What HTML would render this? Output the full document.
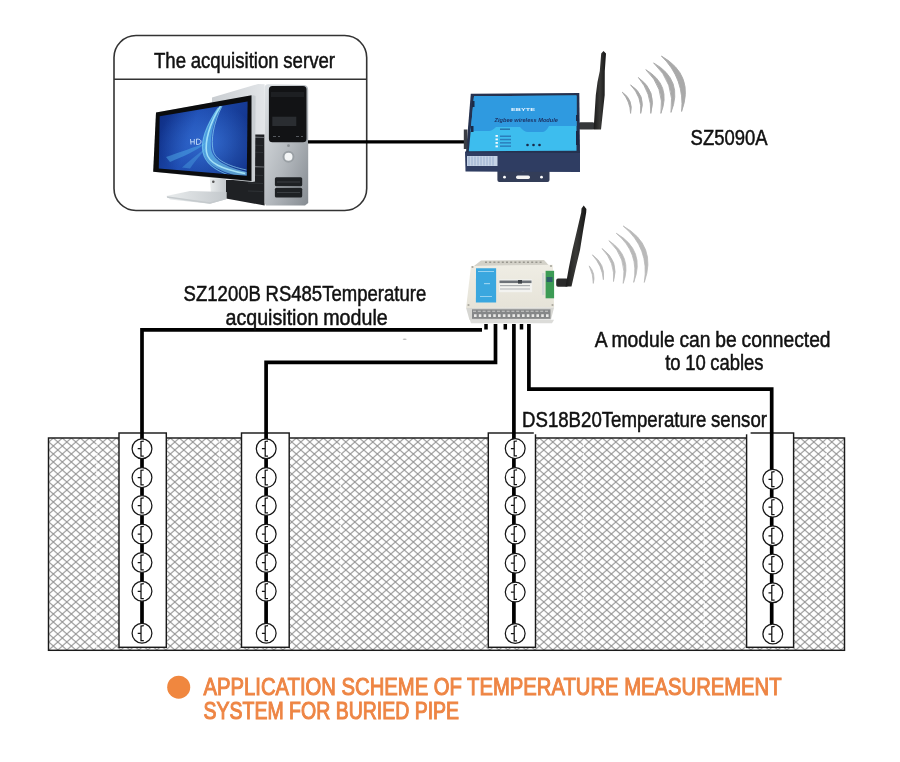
<!DOCTYPE html>
<html><head><meta charset="utf-8">
<style>
html,body{margin:0;padding:0;background:#fff;width:900px;height:762px;overflow:hidden}
svg{display:block}
text{font-family:"Liberation Sans",sans-serif}
</style></head>
<body>
<svg width="900" height="762" viewBox="0 0 900 762">
<defs>
  <pattern id="hatch" x="48.8" y="442" width="9" height="8" patternUnits="userSpaceOnUse">
    <path d="M-4.5,-4 L13.5,12 M13.5,-4 L-4.5,12" stroke="#959595" stroke-width="1.1" fill="none"/>
  </pattern>
  <g id="sensor">
    <circle cx="0" cy="0" r="9.9" fill="#fff" stroke="#161616" stroke-width="1.25"/>
    <path d="M1.8,-7.6 L-1,-7.2 V7.3 H1.8 M-4.3,0 H-1" stroke="#111" stroke-width="1.25" fill="none"/>
  </g>
</defs>

<!-- ground -->
<rect x="48.5" y="438" width="796" height="212.3" fill="url(#hatch)" stroke="#1a1a1a" stroke-width="1.45"/>

<path d="M96.9,439.5 V649 M219.3,439.5 V649 M340.5,439.5 V649 M462.1,439.5 V649 M583.5,439.5 V649 M704.3,439.5 V649 M826.3,439.5 V649" stroke="#fff" stroke-width="1.3" stroke-dasharray="3,1.5" opacity="0.85"/>
<!-- pipe boxes -->
<rect x="119" y="433" width="47.3" height="214.3" fill="#fff" stroke="#1a1a1a" stroke-width="1.45"/>
<rect x="241.5" y="433" width="47.7" height="214.3" fill="#fff" stroke="#1a1a1a" stroke-width="1.45"/>
<rect x="488.3" y="433" width="47.2" height="214.3" fill="#fff" stroke="#1a1a1a" stroke-width="1.45"/>
<rect x="746.6" y="433" width="47" height="214.3" fill="#fff" stroke="#1a1a1a" stroke-width="1.45"/>

<rect x="533.8" y="431" width="216.8" height="3.3" fill="#fff"/>
<!-- cables -->
<g stroke="#000" stroke-width="3.7" fill="none" stroke-linejoin="miter">
  <path d="M482,329.9 H142 V633"/>
  <path d="M495.5,324 V362.3 H266.1 V633"/>
  <path d="M513.9,324 V633"/>
  <path d="M528.9,324 V389.1 H771.7 V633"/>
  <path d="M486,324 V329.5 M505.3,324 V329.5 M521.5,324 V329.5" stroke-width="3.5"/>
</g>

<!-- sensors -->
<g>
<use href="#sensor" x="142" y="448.7"/><use href="#sensor" x="142" y="477.6"/><use href="#sensor" x="142" y="505.5"/><use href="#sensor" x="142" y="534"/><use href="#sensor" x="142" y="562.5"/><use href="#sensor" x="142" y="591.3"/><use href="#sensor" x="142" y="633.3"/>
<use href="#sensor" x="266.2" y="448.7"/><use href="#sensor" x="266.2" y="477.6"/><use href="#sensor" x="266.2" y="505.5"/><use href="#sensor" x="266.2" y="534"/><use href="#sensor" x="266.2" y="562.5"/><use href="#sensor" x="266.2" y="591.3"/><use href="#sensor" x="266.2" y="633.3"/>
<use href="#sensor" x="515.2" y="448.6"/><use href="#sensor" x="515.2" y="477.4"/><use href="#sensor" x="515.2" y="505.3"/><use href="#sensor" x="515.2" y="534"/><use href="#sensor" x="515.2" y="563.2"/><use href="#sensor" x="515.2" y="592.1"/><use href="#sensor" x="515.2" y="633.5"/>
<use href="#sensor" x="772.8" y="479.3"/><use href="#sensor" x="772.8" y="507.2"/><use href="#sensor" x="772.8" y="535.8"/><use href="#sensor" x="772.8" y="564"/><use href="#sensor" x="772.8" y="592.8"/><use href="#sensor" x="772.8" y="634"/>
</g>

<!-- server box -->
<rect x="114" y="35.5" width="252.7" height="175" rx="22" ry="22" fill="#fff" stroke="#333" stroke-width="1.6"/>
<line x1="114" y1="79.3" x2="366.7" y2="79.3" stroke="#333" stroke-width="1.6"/>

<!-- ===== computer ===== -->
<defs>
  <linearGradient id="scr" x1="0" y1="0" x2="1" y2="0.3">
    <stop offset="0" stop-color="#0d2a7e"/>
    <stop offset="0.45" stop-color="#1d4bb0"/>
    <stop offset="1" stop-color="#14378f"/>
  </linearGradient>
  <radialGradient id="scrglow" cx="0.55" cy="0.55" r="0.55">
    <stop offset="0" stop-color="#3d7be0" stop-opacity="0.7"/>
    <stop offset="1" stop-color="#3d7be0" stop-opacity="0"/>
  </radialGradient>
  <linearGradient id="swoosh" x1="0" y1="0" x2="1" y2="1">
    <stop offset="0" stop-color="#4fb8ee"/>
    <stop offset="1" stop-color="#8fe3f7"/>
  </linearGradient>
  <linearGradient id="towertop" x1="0" y1="0" x2="1" y2="0">
    <stop offset="0" stop-color="#c9cdd1"/>
    <stop offset="1" stop-color="#e2e5e8"/>
  </linearGradient>
  <linearGradient id="towerfront" x1="0" y1="0" x2="1" y2="1">
    <stop offset="0" stop-color="#dfe3e6"/>
    <stop offset="0.55" stop-color="#b3b8bd"/>
    <stop offset="1" stop-color="#868c92"/>
  </linearGradient>
  <linearGradient id="standg" x1="0" y1="0" x2="1" y2="0">
    <stop offset="0" stop-color="#e9eced"/>
    <stop offset="1" stop-color="#c3c8cc"/>
  </linearGradient>
</defs>
<g>
  <!-- tower top/side -->
  <polygon points="212,97.5 258,84 264.6,84.3 264.6,135 212,135" fill="url(#towertop)"/>
  <polygon points="244,134.6 264.6,134.6 264.6,205.5 226,198.5 225.8,180 244,180" fill="#1f2124"/>
  <path d="M247,137 L264,137.5 M247,166.5 L264,167" stroke="#6a6e72" stroke-width="1.2"/>
  <path d="M248,145 L263,145.5 M248,152 L263,152.5 M248,175 L263,175.5 M248,183 L263,183.5 M248,191 L263,191.5" stroke="#34373b" stroke-width="0.8"/>
  <!-- tower front -->
  <path d="M264.6,88 Q264.6,84.3 268,84.3 L304,85 Q308.2,85.5 308.2,90 L308.2,203 L305,205.5 L266,205.5 L264.6,203 Z" fill="url(#towerfront)"/>
  <rect x="268.9" y="86" width="37.6" height="56.3" rx="3.5" fill="#121315"/>
  <rect x="272.3" y="116.7" width="24" height="9.3" fill="#2a2d31"/>
  <rect x="271" y="92" width="33" height="5" fill="#1d1f22"/>
  <path d="M273,136.5 H276 M278,136.5 H280 M296,136.5 H299 M301,136.5 H303" stroke="#55595e" stroke-width="1"/>
  <circle cx="288.5" cy="156.8" r="5" fill="#f4f6f7" stroke="#9aa0a5" stroke-width="2"/>
  <circle cx="288.5" cy="145.7" r="1.4" fill="#8a8f94"/>
  <rect x="274.9" y="177.3" width="27.3" height="9" rx="1.5" fill="#1e2124"/>
  <rect x="274.9" y="187.8" width="27.3" height="9.6" rx="1.5" fill="#1e2124"/>
  <path d="M277,182 H300 M277,192.5 H300" stroke="#3a3e42" stroke-width="1"/>
  <!-- stand -->
  <polygon points="209.8,178.5 225.8,178.5 226,192 219,195 211,194" fill="url(#standg)"/>
  <circle cx="213.3" cy="181.8" r="1.3" fill="#555"/>
  <polygon points="166.2,196 190,191 226.7,192 226.7,199 210,203.8 170,199.5" fill="url(#standg)"/>
  <path d="M167,197 L210,203 L226,198.5" stroke="#c5cacd" stroke-width="1.3" fill="none"/>
  <!-- monitor -->
  <polygon points="156,112.6 253.5,95.2 255.6,96 255,181.5 252.4,182 153.2,171.7" fill="#c9ced2"/>
  <polygon points="156,112.6 251.5,95.2 251.5,181.1 153.2,171.7" fill="#0b0c0e"/>
  <polygon points="159.7,116.3 247.6,101.5 246.8,175.8 158.8,168.5" fill="url(#scr)"/>
  <polygon points="159.7,116.3 247.6,101.5 246.8,175.8 158.8,168.5" fill="url(#scrglow)"/>
  <clipPath id="scrclip"><polygon points="159.7,116.3 247.6,101.5 246.8,175.8 158.8,168.5"/></clipPath>
  <filter id="soft" x="-10%" y="-10%" width="120%" height="120%"><feGaussianBlur stdDeviation="0.7"/></filter>
  <g clip-path="url(#scrclip)"><g filter="url(#soft)">
  <path d="M166,157 C180,152 195,147 206,143 C196,151 182,157 170,162 Z" fill="#52b4ea" opacity="0.45"/>
  <path d="M182,167.5 C190,160 198,154 206,148 C200,156 194,162 190,168.5 Z" fill="#52b4ea" opacity="0.35"/>
  <path d="M219,107 C208,122 202,138 203,150 C204,162 216,170 236,175.5 L246.8,175.8 L246.8,172 C226,167 212,160 211,148 C210,134 214,120 222,106 Z" fill="url(#swoosh)" opacity="0.6"/>
  <path d="M220.5,106 C209,124 205,142 206.5,152 C208,163 222,169 245,173.5" stroke="#b8f2ff" stroke-width="1.6" fill="none" opacity="0.8"/>
  <path d="M218,108 C206,126 201,142 203,152 C205,163 214,170 230,175.5" stroke="#7fd8f6" stroke-width="1.2" fill="none" opacity="0.7"/>
  <path d="M222,106 C213,124 211,140 213,150 C215,160 228,166 246.5,170" stroke="#9ce6fa" stroke-width="1" fill="none" opacity="0.6"/>
  </g></g>
  <path d="M190.5,139 L191,144.5 M190.8,141.8 H194 M194.3,139 V144.5 M196.5,139 V144.5 Q201,144.5 201,141.8 Q201,139 196.5,139" stroke="#d8ecff" stroke-width="0.8" fill="none"/>
</g>


<!-- ===== router SZ5090A ===== -->
<defs>
  <linearGradient id="ant" x1="0" y1="0" x2="1" y2="0">
    <stop offset="0" stop-color="#1a1a1a"/>
    <stop offset="0.5" stop-color="#3a3a38"/>
    <stop offset="1" stop-color="#151515"/>
  </linearGradient>
</defs>
<g>
  <!-- antenna connector -->
  <rect x="578" y="122.2" width="17" height="7.2" rx="2.5" fill="#36383a"/>
  <!-- antenna -->
  <path d="M603.5,51 L606,53.5 L604.8,71 L604.7,95 L601,129.4 L593.6,129.4 L595.8,95 L597.5,82 L599.8,71 L601.2,53.5 Z" fill="url(#ant)"/>
  <!-- bracket -->
  <path d="M497.4,171 H549.5 V180 Q549.5,182 547.5,182 H499.4 Q497.4,182 497.4,180 Z" fill="#333d58"/>
  <circle cx="504.5" cy="177.2" r="1.4" fill="#fff"/>
  <circle cx="541.5" cy="177.2" r="1.4" fill="#fff"/>
  <rect x="516" y="175.5" width="14" height="3.5" rx="1.7" fill="#f4f4f4"/>
  <circle cx="523" cy="170" r="1.6" fill="#c9ccd2"/>
  <!-- front face -->
  <polygon points="465,151.5 580,152 580,172 465.5,171.5" fill="#2f3d62"/>
  <rect x="467" y="156" width="30.5" height="10" fill="#c5d3e6"/>
  <path d="M469,156.5 V165.5 M472,156.5 V165.5 M475,156.5 V165.5 M478,156.5 V165.5 M481,156.5 V165.5 M484,156.5 V165.5 M487,156.5 V165.5 M490,156.5 V165.5 M493,156.5 V165.5" stroke="#8ea6c8" stroke-width="0.8"/>
  <!-- top frame -->
  <polygon points="470.8,93.8 579.3,93 580,153 466,152.3" fill="#25314f"/>
  <!-- top blue -->
  <polygon points="474,96.3 576.5,95.6 576.5,150.8 468.8,151.3" fill="#3dbdee"/>
  <path d="M474,96.3 L576.5,95.6 L576.5,126 L549,126 Q546,132 542,132 L528,132 Q524,132 520,127 L496,127 Q492,131 489,131 L470.5,131 Z" fill="#2f9ae0"/>
  <!-- labels -->
  <text x="511" y="111.4" font-size="3.6" font-weight="bold" fill="#eaf6ff" textLength="24" lengthAdjust="spacingAndGlyphs" style="will-change:transform">EBYTE</text>
  <text x="494.5" y="122.2" font-size="5.2" font-weight="bold" font-style="italic" fill="#1d3567" textLength="63.5" lengthAdjust="spacingAndGlyphs" style="will-change:transform">Zigbee wireless Module</text>
  <rect x="500" y="128.5" width="10" height="1.4" fill="#1e4d86" opacity="0.7"/>
  <g fill="#f4fbff"><rect x="495.5" y="135" width="2.4" height="1.8"/><rect x="495.5" y="138.5" width="2.4" height="1.8"/><rect x="495.5" y="142" width="2.4" height="1.8"/><rect x="495.5" y="145.5" width="2.4" height="1.8"/></g>
  <g fill="#2364a8" opacity="0.7"><rect x="500" y="135.5" width="11" height="1.5"/><rect x="500" y="138.8" width="11" height="1.5"/><rect x="500" y="142.1" width="11" height="1.5"/><rect x="500" y="145.4" width="11" height="1.5"/></g>
  <g fill="#1a2a4a"><circle cx="527.5" cy="145" r="1.3"/><circle cx="533.5" cy="145" r="1.3"/><circle cx="539.5" cy="145" r="1.3"/></g>
  <rect x="472" y="101" width="2.5" height="6" fill="#1b2a48"/>
  <rect x="471" y="126" width="2.5" height="6" fill="#1b2a48"/>
  <rect x="576" y="115" width="3" height="6" fill="#1b2a48"/>
  <rect x="576" y="131" width="3" height="14" fill="#1b2a48"/>
</g>


<!-- ===== signal arcs ===== -->
<g fill="#a9a9a9" stroke="#a9a9a9" stroke-width="0.9" stroke-linejoin="round">
<path d="M622.3,92.2 Q633.7,100.0 630.6,113.4 Q630.1,101.4 622.3,92.2 Z"/>
<path d="M630.6,84.9 Q646.8,95.2 640.7,113.4 Q642.2,96.8 630.6,84.9 Z"/>
<path d="M638.4,77.5 Q657.4,91.0 650.8,113.4 Q651.5,93.1 638.4,77.5 Z"/>
<path d="M645.8,69.7 Q671.9,85.1 660.9,113.4 Q664.7,87.6 645.8,69.7 Z"/>
<path d="M653.6,62.9 Q683.9,80.0 671.0,112.4 Q675.3,83.1 653.6,62.9 Z"/>
<path d="M661.4,56.0 Q695.0,75.2 681.6,111.5 Q684.8,78.9 661.4,56.0 Z"/>
</g><g fill="#b9b9b9" stroke="#b9b9b9" stroke-width="0.8" stroke-linejoin="round">
<path d="M589.2,265.9 Q595.9,273.6 593.3,283.4 Q593.3,274.2 589.2,265.9 Z"/>
<path d="M592.4,254.9 Q605.6,263.9 603.4,279.7 Q602.1,265.4 592.4,254.9 Z"/>
<path d="M602.0,248.5 Q619.7,260.9 613.5,281.5 Q615.3,262.4 602.0,248.5 Z"/>
<path d="M608.9,240.7 Q632.9,256.4 623.2,283.4 Q627.5,258.2 608.9,240.7 Z"/>
<path d="M616.3,233.3 Q646.0,250.4 633.7,282.4 Q639.6,252.7 616.3,233.3 Z"/>
<path d="M623.2,226.0 Q657.4,245.3 644.3,282.4 Q649.8,248.2 623.2,226.0 Z"/>
</g>

<!-- ===== module SZ1200B ===== -->
<defs>
  <linearGradient id="modtop" x1="0" y1="0" x2="0" y2="1">
    <stop offset="0" stop-color="#efede4"/>
    <stop offset="1" stop-color="#e6e3d8"/>
  </linearGradient>
</defs>
<g>
  <!-- antenna -->
  <rect x="556.2" y="278.6" width="12" height="8.1" rx="1.8" fill="#2a2a2a"/>
  <path d="M583.7,205.5 L586.4,209 L586.2,212.5 L583,231.2 L580,249.9 L575.6,268.6 L571.5,286.5 L565.5,286.5 L568.7,268.6 L572.4,249.9 L576.8,231.2 L581.2,212.5 L581.5,208.5 Z" fill="url(#ant)"/>
  <!-- top terminal ridge -->
  <polygon points="481,260.5 544,260 549,265.5 474,266" fill="#d3d1c8"/>
  <path d="M485,262.3 H542" stroke="#9a9890" stroke-width="1.6" stroke-dasharray="2,2.2"/>
  <!-- body top -->
  <polygon points="471,265.9 552.9,264.7 554.1,307.5 466.1,308" fill="url(#modtop)"/>
  <circle cx="472.5" cy="267" r="1.1" fill="#a9a79e"/><circle cx="551" cy="266" r="1.1" fill="#a9a79e"/>
  <circle cx="468.5" cy="305" r="1.1" fill="#a9a79e"/><circle cx="552.5" cy="305" r="1.1" fill="#a9a79e"/>
  <!-- blue label -->
  <polygon points="476,268.3 496.1,268.3 496.1,302.6 475.9,302.6" fill="#3aa7df"/>
  <rect x="478" y="271" width="16" height="1" fill="#bfe4f7" opacity="0.7"/>
  <rect x="484" y="283" width="6" height="1.2" fill="#bfe4f7" opacity="0.7"/>
  <rect x="480" y="296" width="12" height="1" fill="#bfe4f7" opacity="0.7"/>
  <!-- white label -->
  <rect x="499.1" y="279.3" width="33" height="12.9" fill="#f3f3f0"/>
  <rect x="499.5" y="280.5" width="32" height="2.6" fill="#6d7278"/>
  <rect x="518" y="280" width="4" height="3.6" fill="#3d4247"/>
  <rect x="500" y="285" width="30" height="1.2" fill="#8a8e93" opacity="0.7"/>
  <rect x="500" y="288.5" width="30" height="1" fill="#8a8e93" opacity="0.6"/>
  <!-- green terminal -->
  <rect x="545.6" y="270.8" width="8.5" height="27.5" fill="#3c9b55"/>
  <rect x="546.5" y="277" width="6" height="5" fill="#2d5e68"/>
  <rect x="542" y="273" width="2.4" height="22" fill="#d0d4d8" opacity="0.8"/>
  <!-- bottom terminals -->
  <polygon points="466.1,308 554.1,307.5 551,319.5 469.5,320" fill="#d6d6d2"/>
  <rect x="472" y="309.3" width="78.5" height="9.5" fill="#858788"/>
  <path d="M473,311.3 H549" stroke="#c9cac8" stroke-width="1.1" stroke-dasharray="3,1.8"/>
  <path d="M474,315.6 H549.5" stroke="#e9e9e7" stroke-width="2.6" stroke-dasharray="2.6,2.2"/>
  <polygon points="469.8,319.7 554.1,319.7 552,323.3 471,323.3" fill="#dcdcd9"/>
</g>

<!-- server to router cable -->
<path d="M308,141.8 H464" stroke="#000" stroke-width="3.2" fill="none"/>
<rect x="463.8" y="129.5" width="3.6" height="19.5" fill="#3a3d44"/>
<ellipse cx="404.7" cy="339.3" rx="2" ry="0.8" fill="#bbb"/>

<!-- texts -->
<g fill="#111" stroke="#111" stroke-width="0.5" font-size="21.4" word-spacing="-0.6" style="will-change:transform">
  <text x="154" y="67.6" textLength="181" lengthAdjust="spacingAndGlyphs">The acquisition server</text>
  <text x="690.6" y="145.3" textLength="77" lengthAdjust="spacingAndGlyphs">SZ5090A</text>
  <text x="183.6" y="300.8" textLength="242.6" lengthAdjust="spacingAndGlyphs">SZ1200B RS485Temperature</text>
  <text x="225.5" y="324.5" textLength="162.2" lengthAdjust="spacingAndGlyphs">acquisition module</text>
  <text x="594.8" y="346.7" textLength="235.8" lengthAdjust="spacingAndGlyphs">A module can be connected</text>
  <text x="665.2" y="370.3" textLength="98.4" lengthAdjust="spacingAndGlyphs">to 10 cables</text>
  <text x="522" y="427.4" textLength="245" lengthAdjust="spacingAndGlyphs">DS18B20Temperature sensor</text>
</g>
<circle cx="178.7" cy="687.2" r="11.5" fill="#f0873f"/>
<g fill="#ee8544" stroke="#ee8544" stroke-width="1.05" font-size="24.2" style="will-change:transform">
  <text x="203.6" y="694.6" textLength="578" lengthAdjust="spacingAndGlyphs">APPLICATION SCHEME OF TEMPERATURE MEASUREMENT</text>
  <text x="203.6" y="719.3" textLength="255.5" lengthAdjust="spacingAndGlyphs">SYSTEM FOR BURIED PIPE</text>
</g>

</svg>
</body></html>
